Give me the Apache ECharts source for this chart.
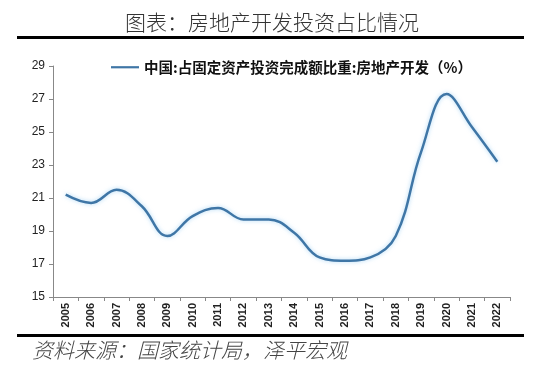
<!DOCTYPE html>
<html><head><meta charset="utf-8">
<script src="https://cdn.jsdelivr.net/npm/echarts@6/dist/echarts.min.js"></script>
<style>html,body{margin:0;padding:0;background:#fff}#c{width:554px;height:365px}</style>
</head><body><div id="c"></div>
<script>
var categories = ['2005','2006','2007','2008','2009','2010','2011','2012','2013','2014','2015','2016','2017','2018','2019','2020','2021','2022'];
var shareValues = [21.2, 20.7, 21.5, 20.5, 18.7, 19.9, 20.4, 19.7, 19.7, 18.9, 17.4, 17.2, 17.4, 18.7, 23.8, 27.3, 25.3, 23.2];
var yTicks = [15, 17, 19, 21, 23, 25, 27, 29];
var seriesName = '中国:占固定资产投资完成额比重:房地产开发（%）';
var chart = echarts.init(document.getElementById('c'));
chart.setOption({
  backgroundColor: '#fff',
  animation: false,
  title: {
    text: '图表：房地产开发投资占比情况',
    left: 120, top: 7,
    textStyle: {fontFamily: 'Noto Sans CJK SC', fontSize: 21, fontWeight: 300, color: '#333'}
  },
  legend: {
    data: [seriesName], left: 106, top: 55, itemWidth: 28, itemHeight: 12, itemGap: 5,
    icon: 'path://M0,5 L28,5 L28,7.2 L0,7.2 Z',
    textStyle: {fontFamily: 'Noto Sans CJK SC', fontSize: 14.5, fontWeight: 'bold', color: '#111'}
  },
  graphic: [
    {type: 'rect', shape: {x: 17, y: 36, width: 507, height: 3}, style: {fill: '#000'}},
    {type: 'rect', shape: {x: 17, y: 334, width: 507, height: 3}, style: {fill: '#000'}},
    {type: 'text', left: 32, top: 340, style: {text: '资料来源：国家统计局，泽平宏观', fontFamily: 'Noto Sans CJK SC', fontSize: 21, fontWeight: 300, fontStyle: 'italic', fill: '#444'}}
  ],
  grid: {left: 53, right: 44, top: 66, bottom: 68},
  xAxis: {
    type: 'category', data: categories, boundaryGap: true,
    axisLine: {lineStyle: {color: '#888', width: 1}},
    axisTick: {show: true, alignWithLabel: false, length: 4, lineStyle: {color: '#888'}},
    axisLabel: {rotate: 90, color: '#222', fontSize: 11, fontWeight: 'bold', fontFamily: 'Liberation Sans', margin: 6}
  },
  yAxis: {
    type: 'value', min: 15, max: 29, interval: 2,
    axisLine: {show: true, lineStyle: {color: '#888'}},
    axisTick: {show: true, inside: false, length: 4, lineStyle: {color: '#888'}},
    splitLine: {show: false},
    axisLabel: {color: '#222', fontSize: 12, fontFamily: 'Liberation Sans', margin: 8,
      formatter: function(v){ return yTicks.indexOf(v) >= 0 ? String(v) : ''; }}
  },
  series: [{
    name: seriesName, type: 'line', data: shareValues, smooth: 0.4, symbol: 'none',
    lineStyle: {color: '#3f76a6', width: 2.5, shadowColor: 'rgba(120,190,240,0.6)', shadowBlur: 4},
    itemStyle: {color: '#3f76a6'}
  }]
});
</script></body></html>
